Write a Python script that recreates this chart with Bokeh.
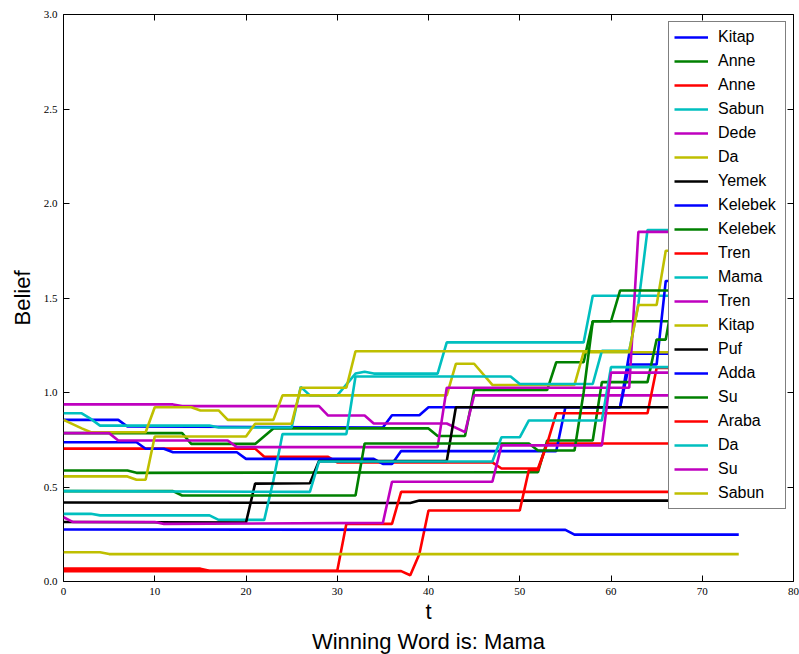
from bokeh.plotting import figure
from bokeh.models import Legend, LegendItem, LinearAxis, FixedTicker, Range1d, Title
from bokeh.embed import file_html
from bokeh.resources import INLINE

# ---- data (vertices of each belief trace: t, belief) ----
kitap1_t = [0, 6, 7, 35, 36, 39, 40, 61, 62, 74]
kitap1_b = [0.855, 0.855, 0.82, 0.815, 0.88, 0.88, 0.922, 0.922, 1.205, 1.205]

anne1_t = [0, 13, 14, 21, 23, 40, 41, 44, 45, 53, 54, 57, 58, 74]
anne1_b = [0.785, 0.785, 0.728, 0.728, 0.81, 0.81, 0.77, 0.77, 1.013, 1.013, 1.16, 1.16, 1.377, 1.377]

anne2_t = [0, 21, 22, 29, 30, 47, 48, 52, 53, 74]
anne2_b = [0.703, 0.703, 0.66, 0.66, 0.63, 0.63, 0.598, 0.598, 0.73, 0.73]

sabun1_t = [0, 2, 3, 4, 16, 17, 25, 26, 27, 30, 32, 33, 34, 41, 42, 57, 58, 74]
sabun1_b = [0.89, 0.89, 0.86, 0.825, 0.825, 0.815, 0.815, 1.03, 0.985, 0.985, 1.10, 1.11, 1.10, 1.10, 1.265, 1.265, 1.512, 1.512]

dede_t = [0, 12, 13, 28, 29, 33, 34, 42, 44, 45, 74]
dede_b = [0.937, 0.937, 0.928, 0.928, 0.878, 0.878, 0.836, 0.836, 0.79, 0.985, 0.985]

da1_t = [0, 2, 3, 9, 10, 14, 15, 17, 18, 23, 24, 42, 43, 45, 47, 56, 57, 74]
da1_b = [0.855, 0.81, 0.79, 0.79, 0.922, 0.922, 0.905, 0.905, 0.855, 0.855, 0.985, 0.985, 1.152, 1.152, 1.04, 1.04, 1.213, 1.213]

yemek_t = [0, 38, 39, 74]
yemek_b = [0.418, 0.415, 0.428, 0.428]

kelebek1_t = [0, 8, 9, 11, 12, 19, 20, 34, 35, 36, 37, 54, 55, 61, 62, 65, 66, 74]
kelebek1_b = [0.737, 0.737, 0.702, 0.702, 0.684, 0.684, 0.649, 0.649, 0.622, 0.622, 0.69, 0.69, 0.922, 0.922, 1.148, 1.148, 1.59, 1.59]

kelebek2_t = [0, 7, 8, 52, 53, 58, 59, 64, 65, 66, 67, 74]
kelebek2_b = [0.587, 0.587, 0.575, 0.578, 0.746, 0.746, 1.055, 1.055, 1.28, 1.28, 1.55, 1.55]

tren1_t = [0, 37, 38, 39, 40, 50, 51, 52, 53, 54, 64, 65, 74]
tren1_b = [0.055, 0.055, 0.033, 0.146, 0.376, 0.376, 0.59, 0.59, 0.73, 0.89, 0.89, 1.13, 1.13]

mama_t = [0, 3, 4, 16, 17, 22, 23, 24, 31, 32, 49, 50, 58, 59, 62, 63, 64, 74]
mama_b = [0.358, 0.358, 0.35, 0.35, 0.326, 0.326, 0.534, 0.78, 0.78, 1.085, 1.085, 1.045, 1.045, 1.22, 1.22, 1.47, 1.86, 1.86]

tren2_t = [0, 5, 6, 18, 19, 41, 42, 62, 63, 74]
tren2_b = [0.785, 0.785, 0.746, 0.746, 0.711, 0.711, 1.025, 1.025, 1.85, 1.85]

kitap2_t = [0, 7, 8, 9, 10, 20, 21, 25, 26, 31, 32, 62, 63, 65, 66, 74]
kitap2_b = [0.556, 0.556, 0.538, 0.538, 0.767, 0.767, 0.835, 0.835, 1.025, 1.025, 1.218, 1.218, 1.463, 1.463, 1.75, 1.75]

puf_t = [0, 20, 21, 27, 28, 42, 43, 74]
puf_b = [0.315, 0.312, 0.518, 0.52, 0.637, 0.637, 0.922, 0.922]

adda_t = [0, 55, 56, 74]
adda_b = [0.275, 0.273, 0.248, 0.248]

su1_t = [0, 12, 13, 32, 33, 51, 52, 56, 57, 58, 60, 61, 74]
su1_b = [0.478, 0.478, 0.455, 0.455, 0.73, 0.73, 0.693, 0.693, 1.0, 1.377, 1.377, 1.54, 1.54]

araba_t = [0, 15, 16, 30, 31, 36, 37, 74]
araba_b = [0.068, 0.068, 0.057, 0.057, 0.305, 0.305, 0.474, 0.474]

da2_t = [0, 27, 28, 47, 48, 50, 51, 59, 60, 74]
da2_b = [0.478, 0.474, 0.635, 0.635, 0.763, 0.763, 0.852, 0.852, 1.134, 1.134]

su2_t = [0, 1, 10, 11, 35, 36, 47, 48, 59, 60, 74]
su2_b = [0.34, 0.315, 0.315, 0.305, 0.31, 0.528, 0.528, 0.72, 0.72, 1.105, 1.105]

sabun2_t = [0, 4, 5, 74]
sabun2_b = [0.155, 0.155, 0.145, 0.145]

series_names = ["Kitap", "Anne", "Anne", "Sabun", "Dede", "Da", "Yemek", "Kelebek", "Kelebek", "Tren",
                "Mama", "Tren", "Kitap", "Puf", "Adda", "Su", "Araba", "Da", "Su", "Sabun"]
series_t = [kitap1_t, anne1_t, anne2_t, sabun1_t, dede_t, da1_t, yemek_t, kelebek1_t, kelebek2_t, tren1_t,
            mama_t, tren2_t, kitap2_t, puf_t, adda_t, su1_t, araba_t, da2_t, su2_t, sabun2_t]
series_b = [kitap1_b, anne1_b, anne2_b, sabun1_b, dede_b, da1_b, yemek_b, kelebek1_b, kelebek2_b, tren1_b,
            mama_b, tren2_b, kitap2_b, puf_b, adda_b, su1_b, araba_b, da2_b, su2_b, sabun2_b]

x_ticks = [0, 10, 20, 30, 40, 50, 60, 70, 80]
y_ticks = [0.0, 0.5, 1.0, 1.5, 2.0, 2.5, 3.0]
y_tick_labels = ["0.0", "0.5", "1.0", "1.5", "2.0", "2.5", "3.0"]

# ---- styling ----
palette = ["#0000ff", "#008000", "#ff0000", "#00bfbf", "#bf00bf", "#bfbf00", "#000000"]
SANS = "Liberation Sans"
SERIF = "Liberation Serif"

p = figure(width=799, height=654, output_backend="svg", toolbar_location=None,
           x_range=Range1d(0, 80), y_range=Range1d(0, 3.0),
           min_border_left=63, min_border_right=6, min_border_top=14, min_border_bottom=73,
           background_fill_color="white", border_fill_color="white")
p.outline_line_color = "black"
p.outline_line_width = 1
p.xgrid.visible = False
p.ygrid.visible = False

def style_axis(ax, standoff):
    ax.axis_line_color = None
    ax.major_tick_in = 6
    ax.major_tick_out = 0
    ax.minor_tick_in = 0
    ax.minor_tick_out = 0
    ax.major_tick_line_color = "black"
    ax.major_label_text_font = SERIF
    ax.major_label_text_font_size = "11px"
    ax.major_label_text_color = "black"
    ax.major_label_standoff = standoff

p.xaxis.ticker = FixedTicker(ticks=x_ticks)
p.yaxis.ticker = FixedTicker(ticks=y_ticks)
p.yaxis.major_label_overrides = {v: s for v, s in zip(y_ticks, y_tick_labels)}
style_axis(p.xaxis[0], 6)
style_axis(p.yaxis[0], 6)
p.xaxis.axis_label = "t"
p.yaxis.axis_label = "Belief"
for ax in (p.xaxis[0], p.yaxis[0]):
    ax.axis_label_text_font = SANS
    ax.axis_label_text_font_size = "22px"
    ax.axis_label_text_font_style = "normal"
    ax.axis_label_text_color = "black"
p.xaxis.axis_label_standoff = 1
p.yaxis.axis_label_standoff = 6

# tick marks on the top and right frame edges (no labels)
top_ax = LinearAxis(ticker=FixedTicker(ticks=x_ticks))
right_ax = LinearAxis(ticker=FixedTicker(ticks=y_ticks))
style_axis(top_ax, 0)
style_axis(right_ax, 0)
top_ax.major_label_overrides = {v: "" for v in x_ticks}
right_ax.major_label_overrides = {v: "" for v in y_ticks}
p.add_layout(top_ax, "above")
p.add_layout(right_ax, "right")

items = []
for i, (nm, tt, bb) in enumerate(zip(series_names, series_t, series_b)):
    r = p.line(tt, bb, line_color=palette[i % 7], line_width=2.6)
    items.append(LegendItem(label=nm, renderers=[r]))

legend = Legend(items=items, location="top_right")
legend.label_text_font = SANS
legend.label_text_font_size = "16px"
legend.label_text_color = "black"
legend.glyph_width = 34
legend.glyph_height = 20
legend.label_height = 20
legend.label_width = 62
legend.label_standoff = 10
legend.spacing = 4
legend.padding = 5
legend.margin = 7
legend.border_line_color = "black"
legend.border_line_width = 1
legend.background_fill_color = "white"
legend.background_fill_alpha = 1.0
p.add_layout(legend)

sub = Title(text="Winning Word is: Mama", align="center", text_font=SANS,
            text_font_size="22px", text_font_style="normal", text_color="black")
sub.standoff = 0
p.add_layout(sub, "below")

open("out.html", "w").write(file_html(p, INLINE))
